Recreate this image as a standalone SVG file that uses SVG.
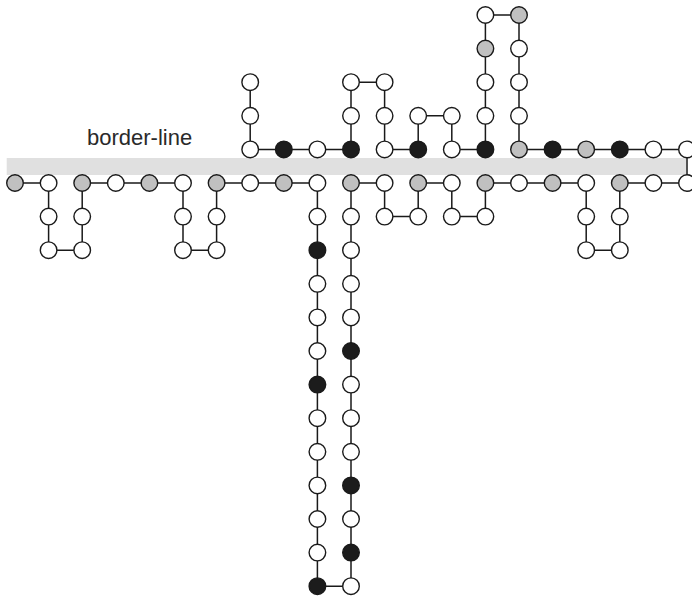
<svg xmlns="http://www.w3.org/2000/svg" width="692" height="597" viewBox="0 0 692 597">
<style>
.n{stroke:#1a1a1a;stroke-width:1.4}
.w{fill:#ffffff}
.g{fill:#c0c0c0}
.b{fill:#1c1c1c}
.c{fill:none;stroke:#1a1a1a;stroke-width:1.5}
.t{font-family:"Liberation Sans",Arial,sans-serif;font-size:22px;fill:#2a2a2a}
</style>
<rect id="band" x="6.7" y="158" width="679.3" height="17" fill="#e0e0e0"/>
<text class="t" x="87" y="145">border-line</text>
<g id="connectors">
<path class="c" d="M250.2,82.2 V149.4 H351 V82.2 H384.6 V149.4 H418.2 V115.8 H451.8 V149.4 H485.4 V15 H519 V149.4 H687 V183 H619.8 V250.2 H586.2 V183 H485.4 V216.6 H451.8 V183 H418.2 V216.6 H384.6 V183 H351 V586.2 H317.4 V183 H216.6 V250.2 H183 V183 H82.2 V250.2 H48.6 V183 H15"/>
</g>
<g id="nodes">
<g id="n7-2"><circle class="n w" cx="250.2" cy="82.2" r="8.3"/></g>
<g id="n7-3"><circle class="n w" cx="250.2" cy="115.8" r="8.3"/></g>
<g id="n10-2"><circle class="n w" cx="351" cy="82.2" r="8.3"/></g>
<g id="n10-3"><circle class="n w" cx="351" cy="115.8" r="8.3"/></g>
<g id="n11-2"><circle class="n w" cx="384.6" cy="82.2" r="8.3"/></g>
<g id="n11-3"><circle class="n w" cx="384.6" cy="115.8" r="8.3"/></g>
<g id="n12-3"><circle class="n w" cx="418.2" cy="115.8" r="8.3"/></g>
<g id="n13-3"><circle class="n w" cx="451.8" cy="115.8" r="8.3"/></g>
<g id="n14-0"><circle class="n w" cx="485.4" cy="15" r="8.3"/></g>
<g id="n14-1"><circle class="n g" cx="485.4" cy="48.6" r="8.3"/></g>
<g id="n14-2"><circle class="n w" cx="485.4" cy="82.2" r="8.3"/></g>
<g id="n14-3"><circle class="n w" cx="485.4" cy="115.8" r="8.3"/></g>
<g id="n15-0"><circle class="n g" cx="519" cy="15" r="8.3"/></g>
<g id="n15-1"><circle class="n w" cx="519" cy="48.6" r="8.3"/></g>
<g id="n15-2"><circle class="n w" cx="519" cy="82.2" r="8.3"/></g>
<g id="n15-3"><circle class="n w" cx="519" cy="115.8" r="8.3"/></g>

<g id="n7-4"><circle class="n w" cx="250.2" cy="149.4" r="8.3"/></g>
<g id="n8-4"><circle class="n b" cx="283.8" cy="149.4" r="8.3"/></g>
<g id="n9-4"><circle class="n w" cx="317.4" cy="149.4" r="8.3"/></g>
<g id="n10-4"><circle class="n b" cx="351" cy="149.4" r="8.3"/></g>
<g id="n11-4"><circle class="n w" cx="384.6" cy="149.4" r="8.3"/></g>
<g id="n12-4"><circle class="n b" cx="418.2" cy="149.4" r="8.3"/></g>
<g id="n13-4"><circle class="n w" cx="451.8" cy="149.4" r="8.3"/></g>
<g id="n14-4"><circle class="n b" cx="485.4" cy="149.4" r="8.3"/></g>
<g id="n15-4"><circle class="n g" cx="519" cy="149.4" r="8.3"/></g>
<g id="n16-4"><circle class="n b" cx="552.6" cy="149.4" r="8.3"/></g>
<g id="n17-4"><circle class="n g" cx="586.2" cy="149.4" r="8.3"/></g>
<g id="n18-4"><circle class="n b" cx="619.8" cy="149.4" r="8.3"/></g>
<g id="n19-4"><circle class="n w" cx="653.4" cy="149.4" r="8.3"/></g>
<g id="n20-4"><circle class="n w" cx="687" cy="149.4" r="8.3"/></g>

<g id="n0-5"><circle class="n g" cx="15" cy="183" r="8.3"/></g>
<g id="n1-5"><circle class="n w" cx="48.6" cy="183" r="8.3"/></g>
<g id="n2-5"><circle class="n g" cx="82.2" cy="183" r="8.3"/></g>
<g id="n3-5"><circle class="n w" cx="115.8" cy="183" r="8.3"/></g>
<g id="n4-5"><circle class="n g" cx="149.4" cy="183" r="8.3"/></g>
<g id="n5-5"><circle class="n w" cx="183" cy="183" r="8.3"/></g>
<g id="n6-5"><circle class="n g" cx="216.6" cy="183" r="8.3"/></g>
<g id="n7-5"><circle class="n w" cx="250.2" cy="183" r="8.3"/></g>
<g id="n8-5"><circle class="n g" cx="283.8" cy="183" r="8.3"/></g>
<g id="n9-5"><circle class="n w" cx="317.4" cy="183" r="8.3"/></g>
<g id="n10-5"><circle class="n g" cx="351" cy="183" r="8.3"/></g>
<g id="n11-5"><circle class="n w" cx="384.6" cy="183" r="8.3"/></g>
<g id="n12-5"><circle class="n g" cx="418.2" cy="183" r="8.3"/></g>
<g id="n13-5"><circle class="n w" cx="451.8" cy="183" r="8.3"/></g>
<g id="n14-5"><circle class="n g" cx="485.4" cy="183" r="8.3"/></g>
<g id="n15-5"><circle class="n w" cx="519" cy="183" r="8.3"/></g>
<g id="n16-5"><circle class="n g" cx="552.6" cy="183" r="8.3"/></g>
<g id="n17-5"><circle class="n w" cx="586.2" cy="183" r="8.3"/></g>
<g id="n18-5"><circle class="n g" cx="619.8" cy="183" r="8.3"/></g>
<g id="n19-5"><circle class="n w" cx="653.4" cy="183" r="8.3"/></g>
<g id="n20-5"><circle class="n w" cx="687" cy="183" r="8.3"/></g>

<g id="n1-6"><circle class="n w" cx="48.6" cy="216.6" r="8.3"/></g>
<g id="n1-7"><circle class="n w" cx="48.6" cy="250.2" r="8.3"/></g>
<g id="n2-6"><circle class="n w" cx="82.2" cy="216.6" r="8.3"/></g>
<g id="n2-7"><circle class="n w" cx="82.2" cy="250.2" r="8.3"/></g>
<g id="n5-6"><circle class="n w" cx="183" cy="216.6" r="8.3"/></g>
<g id="n5-7"><circle class="n w" cx="183" cy="250.2" r="8.3"/></g>
<g id="n6-6"><circle class="n w" cx="216.6" cy="216.6" r="8.3"/></g>
<g id="n6-7"><circle class="n w" cx="216.6" cy="250.2" r="8.3"/></g>
<g id="n11-6"><circle class="n w" cx="384.6" cy="216.6" r="8.3"/></g>
<g id="n12-6"><circle class="n w" cx="418.2" cy="216.6" r="8.3"/></g>
<g id="n13-6"><circle class="n w" cx="451.8" cy="216.6" r="8.3"/></g>
<g id="n14-6"><circle class="n w" cx="485.4" cy="216.6" r="8.3"/></g>
<g id="n17-6"><circle class="n w" cx="586.2" cy="216.6" r="8.3"/></g>
<g id="n17-7"><circle class="n w" cx="586.2" cy="250.2" r="8.3"/></g>
<g id="n18-6"><circle class="n w" cx="619.8" cy="216.6" r="8.3"/></g>
<g id="n18-7"><circle class="n w" cx="619.8" cy="250.2" r="8.3"/></g>

<g id="n9-6"><circle class="n w" cx="317.4" cy="216.6" r="8.3"/></g>
<g id="n9-7"><circle class="n b" cx="317.4" cy="250.2" r="8.3"/></g>
<g id="n9-8"><circle class="n w" cx="317.4" cy="283.8" r="8.3"/></g>
<g id="n9-9"><circle class="n w" cx="317.4" cy="317.4" r="8.3"/></g>
<g id="n9-10"><circle class="n w" cx="317.4" cy="351" r="8.3"/></g>
<g id="n9-11"><circle class="n b" cx="317.4" cy="384.6" r="8.3"/></g>
<g id="n9-12"><circle class="n w" cx="317.4" cy="418.2" r="8.3"/></g>
<g id="n9-13"><circle class="n w" cx="317.4" cy="451.8" r="8.3"/></g>
<g id="n9-14"><circle class="n w" cx="317.4" cy="485.4" r="8.3"/></g>
<g id="n9-15"><circle class="n w" cx="317.4" cy="519" r="8.3"/></g>
<g id="n9-16"><circle class="n w" cx="317.4" cy="552.6" r="8.3"/></g>
<g id="n9-17"><circle class="n b" cx="317.4" cy="586.2" r="8.3"/></g>

<g id="n10-6"><circle class="n w" cx="351" cy="216.6" r="8.3"/></g>
<g id="n10-7"><circle class="n w" cx="351" cy="250.2" r="8.3"/></g>
<g id="n10-8"><circle class="n w" cx="351" cy="283.8" r="8.3"/></g>
<g id="n10-9"><circle class="n w" cx="351" cy="317.4" r="8.3"/></g>
<g id="n10-10"><circle class="n b" cx="351" cy="351" r="8.3"/></g>
<g id="n10-11"><circle class="n w" cx="351" cy="384.6" r="8.3"/></g>
<g id="n10-12"><circle class="n w" cx="351" cy="418.2" r="8.3"/></g>
<g id="n10-13"><circle class="n w" cx="351" cy="451.8" r="8.3"/></g>
<g id="n10-14"><circle class="n b" cx="351" cy="485.4" r="8.3"/></g>
<g id="n10-15"><circle class="n w" cx="351" cy="519" r="8.3"/></g>
<g id="n10-16"><circle class="n b" cx="351" cy="552.6" r="8.3"/></g>
<g id="n10-17"><circle class="n w" cx="351" cy="586.2" r="8.3"/></g>
</g>
</svg>
